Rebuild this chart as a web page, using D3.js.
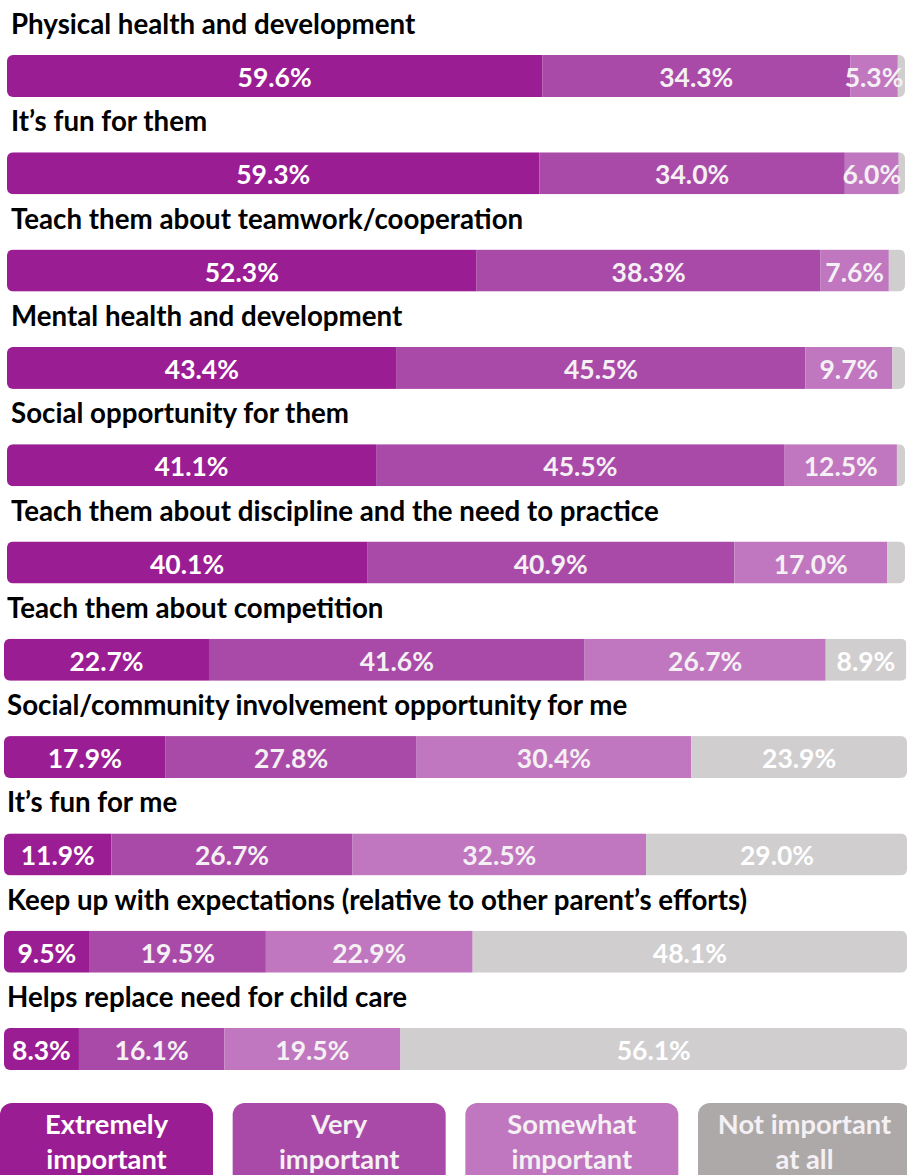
<!DOCTYPE html>
<html>
<head>
<meta charset="utf-8">
<script src="https://cdn.jsdelivr.net/npm/d3@7"></script>
<style>
  html, body { margin: 0; padding: 0; background: #ffffff; }
  svg { display: block; }
  text { font-family: Lato, "Open Sans", sans-serif; font-weight: 700; }
</style>
</head>
<body>
<svg id="chart" width="907" height="1175"></svg>
<script>
// Reasons parents give for their child's sport participation
const categories = [
  "Physical health and development",
  "It\u2019s fun for them",
  "Teach them about teamwork/cooperation",
  "Mental health and development",
  "Social opportunity for them",
  "Teach them about discipline and the need to practice",
  "Teach them about competition",
  "Social/community involvement opportunity for me",
  "It\u2019s fun for me",
  "Keep up with expectations (relative to other parent\u2019s efforts)",
  "Helps replace need for child care"
];

const extremelyImportant = [59.6, 59.3, 52.3, 43.4, 41.1, 40.1, 22.7, 17.9, 11.9, 9.5, 8.3];
const veryImportant      = [34.3, 34.0, 38.3, 45.5, 45.5, 40.9, 41.6, 27.8, 26.7, 19.5, 16.1];
const somewhatImportant  = [5.3, 6.0, 7.6, 9.7, 12.5, 17.0, 26.7, 30.4, 32.5, 22.9, 19.5];
const notImportantAtAll  = [0.8, 0.7, 1.8, 1.4, 0.9, 2.0, 8.9, 23.9, 29.0, 48.1, 56.1];

const seriesNames = ["Extremely important", "Very important", "Somewhat important", "Not important at all"];
const legendLines = [["Extremely", "important"], ["Very", "important"], ["Somewhat", "important"], ["Not important", "at all"]];

const barColors    = ["#9b1d94", "#a94aa8", "#c077bf", "#d0cecf"];
const legendColors = ["#9b1d94", "#a94aa8", "#c077bf", "#ada9a9"];
const labelColors  = ["#ffffff", "#f4f0f4", "#f4f0f4", "#ffffff"];

const svg = d3.select("#chart");

const rows = categories.map((c, i) => ({
  category: c,
  index: i,
  values: [extremelyImportant[i], veryImportant[i], somewhatImportant[i], notImportantAtAll[i]]
}));

const y = d3.scaleBand()
  .domain(categories)
  .range([55, 1070])
  .paddingInner(1 - 42 / 97.3)
  .paddingOuter(0)
  .align(0);

// the lower block of rows sits slightly further left and runs a touch wider
const rowLeft  = i => (i < 6 ? 7 : 4);
const rowWidth = i => (i < 6 ? 898 : 903);

const defs = svg.append("defs");

const row = svg.selectAll("g.row")
  .data(rows)
  .join("g")
  .attr("class", "row")
  .attr("transform", d => `translate(${rowLeft(d.index)},${y(d.category)})`);

// clip each stacked bar to a rounded rectangle
defs.selectAll("clipPath")
  .data(rows)
  .join("clipPath")
  .attr("id", d => "clip" + d.index)
  .append("rect")
  .attr("x", 0)
  .attr("y", 0)
  .attr("width", d => rowWidth(d.index))
  .attr("height", y.bandwidth())
  .attr("rx", 6)
  .attr("ry", 6);

row.append("text")
  .attr("class", "cat")
  .attr("x", d => (d.index < 6 ? 4 : 3))
  .attr("y", -21)
  .attr("font-size", 27.7)
  .attr("fill", "#000000")
  .text(d => d.category);

row.each(function (d) {
  const g = d3.select(this);
  const x = d3.scaleLinear().domain([0, 100]).range([0, rowWidth(d.index)]);
  let acc = 0;
  const segs = d.values.map((v, k) => {
    const s = { k, v, x0: acc, x1: acc + v };
    acc += v;
    return s;
  });

  const bar = g.append("g").attr("clip-path", `url(#clip${d.index})`);
  bar.selectAll("rect")
    .data(segs)
    .join("rect")
    .attr("x", s => x(s.x0))
    .attr("y", 0)
    .attr("width", s => Math.max(0, x(s.x1) - x(s.x0)))
    .attr("height", y.bandwidth())
    .attr("fill", s => barColors[s.k]);

  g.selectAll("text.val")
    .data(segs.filter(s => s.v >= 3))
    .join("text")
    .attr("class", "val")
    .attr("x", s => (x(s.x0) + x(s.x1)) / 2)
    .attr("y", y.bandwidth() / 2 + 1)
    .attr("dominant-baseline", "central")
    .attr("text-anchor", "middle")
    .attr("font-size", 26.5)
    .attr("fill", s => labelColors[s.k])
    .text(s => s.v.toFixed(1) + "%");
});

// legend
const legendX = d3.scalePoint().domain(seriesNames).range([0, 698]);
const legend = svg.append("g").selectAll("g")
  .data(seriesNames)
  .join("g")
  .attr("transform", d => `translate(${legendX(d)},1103)`);

legend.append("rect")
  .attr("width", 213)
  .attr("height", 95)
  .attr("rx", 12)
  .attr("ry", 12)
  .attr("fill", (d, i) => legendColors[i]);

legend.each(function (d, i) {
  const g = d3.select(this);
  legendLines[i].forEach((line, j) => {
    g.append("text")
      .attr("x", 106.5)
      .attr("y", 31 + j * 35)
      .attr("text-anchor", "middle")
      .attr("font-size", 27.3)
      .attr("fill", i === 0 ? "#ffffff" : "#f4f0f4")
      .text(line);
  });
});
</script>
</body>
</html>
